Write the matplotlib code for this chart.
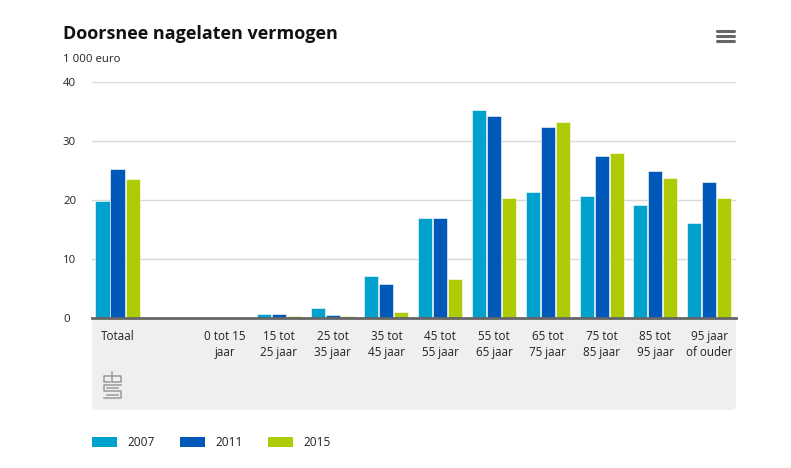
import matplotlib
matplotlib.use('Agg')
import matplotlib.pyplot as plt
import matplotlib.patches as mpatches
from matplotlib.lines import Line2D
import numpy as np

# data
# =======================
categories = ['Totaal', '0 tot 15\njaar', '15 tot\n25 jaar', '25 tot\n35 jaar', '35 tot\n45 jaar',
              '45 tot\n55 jaar', '55 tot\n65 jaar', '65 tot\n75 jaar', '75 tot\n85 jaar',
              '85 tot\n95 jaar', '95 jaar\nof ouder']
years = ['2007', '2011', '2015']
values_2007 = [19.8, 0.0, 0.7, 1.7, 7.1, 16.9, 35.3, 21.3, 20.6, 19.1, 16.1]
values_2011 = [25.3, 0.0, 0.7, 0.5, 5.8, 16.9, 34.3, 32.4, 27.5, 25.0, 23.0]
values_2015 = [23.6, 0.0, 0.4, 0.3, 1.0, 6.6, 20.4, 33.2, 28.0, 23.8, 20.4]
yticks = [0, 10, 20, 30, 40]
colors = ['#00a1cd', '#0058b8', '#afcb05']

# layout helpers (pixels -> figure fraction)
W, H = 791, 468
def fx(px):
    return px / W
def fy(py):
    return 1 - py / H

fig = plt.figure(figsize=(W / 100, H / 100), dpi=100)
plt.rcParams['font.family'] = ['Open Sans', 'DejaVu Sans']
textColor = '#222222'

# grey box under the axis (top part hidden behind the axes)
box = mpatches.FancyBboxPatch((fx(92), fy(410)), fx(736) - fx(92), fy(300) - fy(410),
                              boxstyle='round,pad=0,rounding_size=0.008',
                              transform=fig.transFigure, facecolor='#efefef', edgecolor='none',
                              zorder=-5)
fig.patches.append(box)

# axes
ax = fig.add_axes([fx(92), fy(318), fx(736) - fx(92), fy(82) - fy(318)])
ax.set_facecolor('white')
# Totaal stands apart, one empty slot before the age groups
x = np.array([0] + list(range(2, len(categories) + 1)))
step = 0.279
for i, vals in enumerate([values_2007, values_2011, values_2015]):
    ax.bar(x + (i - 1) * step, vals, width=0.262, color=colors[i],
           edgecolor='white', linewidth=0.4, zorder=3)

ax.set_xlim(-0.475, 11.5)
ax.set_ylim(0, 40)
ax.set_yticks(yticks)
ax.set_yticklabels([str(t) for t in yticks], ha='left', fontsize=8.2, color=textColor)
ax.tick_params(axis='y', length=0, pad=20.9)
ax.set_xticks(x)
ax.set_xticklabels(categories, fontsize=8.4, color=textColor, linespacing=1.3)
ax.tick_params(axis='x', length=0, pad=8.5)
ax.grid(axis='y', color='#d8d8d8', linewidth=1, zorder=0)
for s in ['top', 'right', 'left']:
    ax.spines[s].set_visible(False)
ax.spines['bottom'].set_color('#666666')
ax.spines['bottom'].set_linewidth(2)
ax.spines['bottom'].set_zorder(4)

# titles
fig.text(fx(63), fy(34), 'Doorsnee nagelaten vermogen', fontsize=13, fontweight='bold',
         color='#111111', va='center', ha='left')
fig.text(fx(63), fy(59), '1 000 euro', fontsize=8.2, color=textColor, va='center', ha='left')

# menu icon
for py in [31, 36, 41]:
    fig.add_artist(Line2D([fx(717), fx(734)], [fy(py), fy(py)], color='#666666',
                          linewidth=2.2, solid_capstyle='round', transform=fig.transFigure))

# cbs logo (rough)
logo = [
    [(110, 376), (104, 376), (104, 382), (110, 382)],
    [(112, 372), (112, 382), (121, 382), (121, 376), (112, 376)],
    [(121, 385), (104, 385), (104, 391), (121, 391), (121, 398), (104, 398)],
    [(118, 388), (107, 388)],
    [(107, 394.5), (118, 394.5)],
]
for seg in logo:
    xs = [fx(p[0]) for p in seg]
    ys = [fy(p[1]) for p in seg]
    fig.add_artist(Line2D(xs, ys, color='#9a9a9a', linewidth=1.1, transform=fig.transFigure))

# legend
legendPatchX = [92, 180, 268]
for i, yr in enumerate(years):
    px = legendPatchX[i]
    fig.patches.append(mpatches.Rectangle((fx(px), fy(447)), fx(25), fy(437) - fy(447),
                                          transform=fig.transFigure, facecolor=colors[i],
                                          edgecolor='none'))
    fig.text(fx(px + 35), fy(442), yr, fontsize=8.6, color=textColor, va='center', ha='left')

fig.savefig('out.png', dpi=100)
